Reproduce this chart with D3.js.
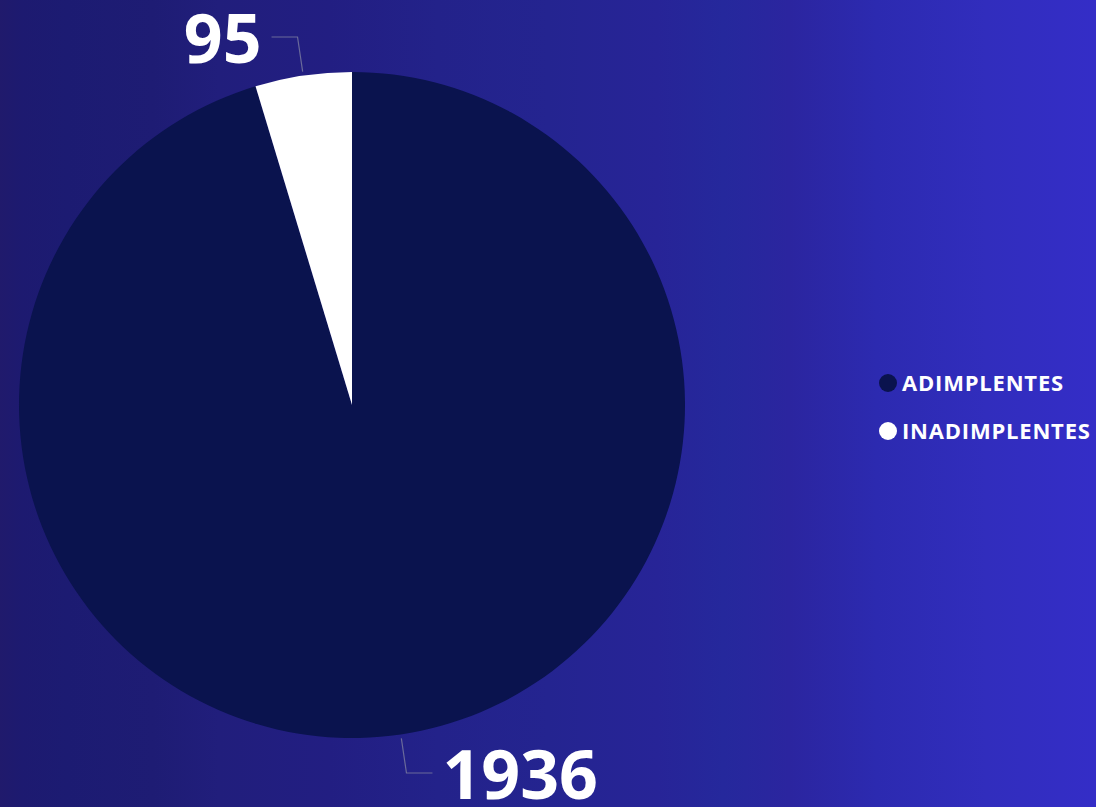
<!DOCTYPE html>
<html lang="pt">
<head>
<meta charset="UTF-8">
<title>Adimplentes x Inadimplentes</title>
<script src="https://cdn.jsdelivr.net/npm/d3@7"></script>
<style>
  body { margin: 0; overflow: hidden; }
  text { font-family: "Segoe UI", "Open Sans", sans-serif; font-weight: 700; fill: #fff; }
</style>
</head>
<body>
<div id="chart"></div>
<script>
// dados
var categorias = ["ADIMPLENTES", "INADIMPLENTES"];
var valores = [1936, 95];
var cores = ["#0a134e", "#ffffff"];

var width = 1096, height = 807;
var cx = 352, cy = 405, raio = 333;

var svg = d3.select("#chart").append("svg")
    .attr("width", width).attr("height", height);

// fundo em degradê com listras
var defs = svg.append("defs");
var grad = defs.append("linearGradient").attr("id", "fundo")
    .attr("x1", "0%").attr("x2", "100%").attr("y1", "0%").attr("y2", "0%");
var stops = [
  [0, "#201a6c"], [0.02, "#1d1a70"], [0.06, "#1c1b72"], [0.14, "#1e1c74"],
  [0.2, "#211e7c"], [0.3, "#221e82"], [0.4, "#23228a"], [0.5, "#242490"],
  [0.6, "#272497"], [0.66, "#25289c"], [0.72, "#2b259f"], [0.8, "#2c2ab0"],
  [0.9, "#312dbd"], [1, "#342dc7"]
];
stops.forEach(function(s) {
  grad.append("stop").attr("offset", s[0]).attr("stop-color", s[1]);
});
svg.append("rect").attr("width", width).attr("height", height).attr("fill", "url(#fundo)");

var dados = categorias.map(function(c, i) { return { nome: c, valor: valores[i], cor: cores[i] }; });

var pie = d3.pie().sort(null).value(function(d) { return d.valor; });
var arcos = pie(dados);

var arc = d3.arc().innerRadius(0).outerRadius(raio);

var g = svg.append("g").attr("transform", "translate(" + cx + "," + cy + ")");

g.selectAll("path.fatia").data(arcos).enter()
  .append("path")
  .attr("class", "fatia")
  .attr("d", arc)
  .attr("fill", function(d) { return d.data.cor; });

// linhas guia e rótulos
function ponto(a, r) { return [r * Math.sin(a), -r * Math.cos(a)]; }

arcos.forEach(function(d) {
  var meio = (d.startAngle + d.endAngle) / 2;
  var p0 = ponto(meio, raio + 4);
  var p1 = ponto(meio, raio + 39);
  var esquerda = p1[0] < 0;
  var p2 = [p1[0] + (esquerda ? -26 : 26), p1[1]];

  g.append("polyline")
    .attr("points", [p0, p1, p2].map(function(p) { return p.join(","); }).join(" "))
    .attr("fill", "none")
    .attr("stroke", "#6a6a9a")
    .attr("stroke-width", 1.2);

  g.append("text")
    .attr("x", p2[0] + (esquerda ? -10 : 10))
    .attr("y", p2[1] + 26)
    .attr("text-anchor", esquerda ? "end" : "start")
    .style("font-size", "68px")
    .text(d.data.valor);
});

// legenda
var leg = svg.append("g").attr("transform", "translate(888,383)");
var itens = leg.selectAll("g").data(dados).enter().append("g")
  .attr("transform", function(d, i) { return "translate(0," + i * 48 + ")"; });
itens.append("circle").attr("r", 9).attr("fill", function(d) { return d.cor; });
itens.append("text")
  .attr("x", 14).attr("dy", "0.36em")
  .style("font-size", "22px")
  .style("letter-spacing", "0.8px")
  .text(function(d) { return d.nome; });
</script>
</body>
</html>
